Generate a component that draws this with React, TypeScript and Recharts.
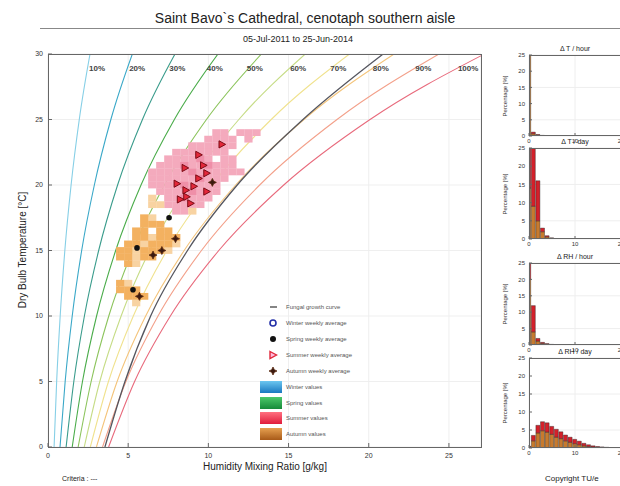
import { ComposedChart, Line, Scatter, Bar, XAxis, YAxis, CartesianGrid } from 'recharts'

const FONT = '"Liberation Sans", Arial, Helvetica, sans-serif'

// mixing ratio [g/kg] of each RH curve at these dry bulb temperatures
const temps = [0, 5, 10, 15, 20, 25, 30]
const rh10 = [0.38, 0.54, 0.76, 1.05, 1.44, 1.95, 2.62]
const rh20 = [0.75, 1.07, 1.51, 2.1, 2.89, 3.92, 5.26]
const rh30 = [1.13, 1.61, 2.27, 3.16, 4.34, 5.89, 7.92]
const rh40 = [1.51, 2.15, 3.03, 4.22, 5.8, 7.88, 10.6]
const rh50 = [1.88, 2.69, 3.79, 5.28, 7.26, 9.88, 13.31]
const rh60 = [2.26, 3.23, 4.56, 6.34, 8.74, 11.9, 16.04]
const rh70 = [2.64, 3.77, 5.32, 7.41, 10.22, 13.92, 18.8]
const rh80 = [3.02, 4.31, 6.09, 8.49, 11.7, 15.96, 21.58]
const rh90 = [3.4, 4.86, 6.86, 9.57, 13.2, 18.02, 24.38]
const rh100 = [3.78, 5.4, 7.63, 10.65, 14.7, 20.08, 27.21]
const fungal = [3.55, 4.8, 6.4, 8.7, 11.8, 15.9, 20.9]

const rhLabels = ['10%', '20%', '30%', '40%', '50%', '60%', '70%', '80%', '90%', '100%']
const rhLabelW = [3.06, 5.56, 8.06, 10.4, 12.9, 15.6, 18.1, 20.75, 23.4, 26.2]
const rhColors = ['#86cfe6', '#3aa8c8', '#3a9c8c', '#4aac4a', '#8cc45c', '#c6dc86', '#f0e28e', '#f4c47a', '#f3a08a', '#e86a7c']

// [mixing ratio, temperature]
const summerValues = [
  [10.5, 24], [11, 24], [12, 24], [12.5, 24], [13, 24],
  [10, 23.5], [10.5, 23.5], [11, 23.5], [11.5, 23.5], [12.5, 23.5],
  [9, 23], [9.5, 23], [10, 23], [10.5, 23], [11, 23], [11.5, 23],
  [8, 22.5], [8.5, 22.5], [9, 22.5], [9.5, 22.5], [10, 22.5], [10.5, 22.5], [11, 22.5],
  [7.5, 22], [8, 22], [8.5, 22], [9, 22], [9.5, 22], [10, 22], [11, 22], [11.5, 22],
  [7, 21.5], [7.5, 21.5], [8, 21.5], [8.5, 21.5], [9, 21.5], [9.5, 21.5], [10, 21.5], [10.5, 21.5], [11, 21.5], [11.5, 21.5],
  [6.5, 21], [7, 21], [7.5, 21], [8, 21], [8.5, 21], [9, 21], [9.5, 21], [10, 21], [10.5, 21], [11, 21], [11.5, 21], [12, 21],
  [6.5, 20.5], [7, 20.5], [7.5, 20.5], [8, 20.5], [8.5, 20.5], [9, 20.5], [9.5, 20.5], [10, 20.5], [10.5, 20.5], [11, 20.5],
  [6.5, 20], [7, 20], [7.5, 20], [8, 20], [8.5, 20], [9, 20], [9.5, 20], [10, 20], [10.5, 20],
  [7, 19.5], [7.5, 19.5], [8, 19.5], [8.5, 19.5], [9, 19.5], [9.5, 19.5], [10, 19.5], [10.5, 19.5],
  [7.5, 19], [8, 19], [8.5, 19], [9, 19], [9.5, 19], [10, 19],
  [7.5, 18.5], [8, 18.5], [8.5, 18.5], [9, 18.5], [9.5, 18.5],
  [8, 18], [8.5, 18],
]
const summerDense = [
  [8.5, 21.5], [9, 21], [9.5, 20.5], [8.5, 20], [9, 19.5], [10, 21.5], [9.5, 22], [8.5, 19],
]
const autumnValues = [
  [6, 17.5], [6, 17], [6.5, 17], [7, 17],
  [5.5, 16.5], [6, 16.5], [7, 16.5], [7.5, 16.5],
  [5.5, 16], [6, 16], [7, 16], [7.5, 16], [8, 16],
  [5, 15.5], [5.5, 15.5], [6.5, 15.5], [7, 15.5], [7.5, 15.5],
  [4.5, 15], [5, 15], [6, 15], [6.5, 15], [7, 15],
  [4.5, 14.5], [5, 14.5], [6, 14.5], [6.5, 14.5],
  [5, 14],
  [4.5, 12.5], [4.5, 12], [5, 12], [5.5, 12],
  [5, 11.5], [5.5, 11.5], [6, 11.5],
]
const autumnPale = [
  [6.5, 19], [6.5, 18.5], [7, 18.5], [9, 18], [6.5, 17.5], [6.5, 16], [6, 15.5], [5.5, 15],
  [5.5, 14.5], [5.5, 14], [5, 12.5], [5.5, 11], [8, 15.5], [7.5, 15],
]
const summerWeekly = [
  [10.85, 23.1], [9.4, 22.3], [9.7, 21.5], [8.55, 21.3], [9.9, 20.9], [8.05, 20.1], [9.1, 19.9],
  [9.9, 19.5], [8.65, 19.1], [8.25, 18.9], [8.9, 18.6], [9.4, 20.5], [8.6, 19.6],
]
const springWeekly = [[7.55, 17.5], [5.55, 15.2], [5.3, 12.0]]
const autumnWeekly = [[7.95, 15.9], [6.55, 14.65], [7.1, 15.0], [5.7, 11.5], [10.25, 20.2]]

// histogram panels, bin centres and percentages
const binCenters = [0, 1, 2, 3, 4, 5, 6, 7, 8, 9, 10, 11, 12, 13, 14, 15, 16, 17, 18, 19]
const dtHourAutumn = [40, 0.7, 0.25, 0.1, 0.05, 0, 0, 0, 0, 0, 0, 0, 0, 0, 0, 0, 0, 0, 0, 0]
const dtHourSummer = [30, 0.5, 0.2, 0.1, 0, 0, 0, 0, 0, 0, 0, 0, 0, 0, 0, 0, 0, 0, 0, 0]
const dtDayAutumn = [14, 9, 5, 2, 0.6, 0.2, 0.1, 0, 0, 0, 0, 0, 0, 0, 0, 0, 0, 0, 0, 0]
const dtDaySummer = [14, 17, 11, 1, 0.3, 0.1, 0, 0, 0, 0, 0, 0, 0, 0, 0, 0, 0, 0, 0, 0]
const drhHourAutumn = [20, 4, 1.2, 0.5, 0.25, 0.1, 0, 0, 0, 0, 0, 0, 0, 0, 0, 0, 0, 0, 0, 0]
const drhHourSummer = [20, 8, 0.8, 0.3, 0.15, 0.1, 0, 0, 0, 0, 0, 0, 0, 0, 0, 0, 0, 0, 0, 0]
const drhDayAutumn = [0.3, 2.0, 4.2, 4.8, 4.4, 3.8, 3.0, 2.6, 2.0, 1.6, 1.2, 0.9, 0.6, 0.4, 0.3, 0.2, 0.15, 0.1, 0.05, 0.05]
const drhDaySummer = [0.2, 1.5, 2.1, 2.5, 2.6, 2.2, 2.2, 1.9, 1.6, 1.4, 1.2, 1.0, 0.7, 0.5, 0.3, 0.2, 0.15, 0.1, 0.05, 0.05]

const curve = (ws: number[]) => ws.map((w, i) => ({ w, t: temps[i] }))
const pts = (arr: number[][]) => arr.map(([w, t]) => ({ w, t }))
const rhCurves = [rh10, rh20, rh30, rh40, rh50, rh60, rh70, rh80, rh90, rh100]

const tickStyle = { fontSize: 7, fill: '#333', fontFamily: FONT }

const square = (color: string) => (p: any) => (
  <rect x={p.cx - 4.1} y={p.cy - 3.4} width={8.2} height={6.8} fill={color} />
)
const triangle = (p: any) => (
  <polygon
    points={`${p.cx - 3},${p.cy - 3.6} ${p.cx + 3.6},${p.cy} ${p.cx - 3},${p.cy + 3.6}`}
    fill="#e3283a"
    stroke="#7a0a14"
    strokeWidth={1}
  />
)
const dot = (p: any) => <circle cx={p.cx} cy={p.cy} r={2.8} fill="#111" />
const star = (p: any) => {
  const { cx, cy } = p
  return (
    <path
      d={`M${cx},${cy - 4} L${cx + 1.3},${cy - 1.3} L${cx + 4},${cy} L${cx + 1.3},${cy + 1.3} L${cx},${cy + 4} L${cx - 1.3},${cy + 1.3} L${cx - 4},${cy} L${cx - 1.3},${cy - 1.3} Z`}
      fill="#3b1a10"
      stroke="#5a2a10"
      strokeWidth={0.8}
    />
  )
}
const labelText = (p: any) => (
  <text x={p.cx} y={p.cy} textAnchor="middle" dominantBaseline="middle" fontSize={8} fontWeight={700} fill="#444" fontFamily={FONT}>
    {p.payload.label}
  </text>
)

function MainChart() {
  return (
    <ComposedChart
      width={490}
      height={486}
      margin={{ top: 54, right: 9, bottom: 14, left: 18 }}
      style={{ position: 'absolute', left: 0, top: 0 }}
    >
      <CartesianGrid stroke="#efefef" />
      <XAxis
        type="number"
        dataKey="w"
        domain={[0, 27]}
        ticks={[0, 5, 10, 15, 20, 25]}
        allowDataOverflow
        height={25}
        axisLine={false}
        tickSize={-4}
        tickMargin={10}
        tickLine={{ stroke: '#666' }}
        tick={tickStyle}
      />
      <YAxis
        type="number"
        dataKey="t"
        domain={[0, 30]}
        ticks={[0, 5, 10, 15, 20, 25, 30]}
        allowDataOverflow
        width={30}
        axisLine={false}
        tickSize={-4}
        tickMargin={9}
        tickLine={{ stroke: '#666' }}
        tick={tickStyle}
      />
      {rhCurves.map((c, i) => (
        <Line
          key={rhLabels[i]}
          data={curve(c)}
          dataKey="t"
          type="monotone"
          stroke={rhColors[i]}
          strokeWidth={1.1}
          dot={false}
          isAnimationActive={false}
        />
      ))}
      <Line data={curve(fungal)} dataKey="t" type="monotone" stroke="#55565f" strokeWidth={1.3} dot={false} isAnimationActive={false} />
      <Scatter data={pts(summerValues)} shape={square('#f4aabd')} isAnimationActive={false} />
      <Scatter data={pts(summerDense)} shape={square('#ef8fa8')} isAnimationActive={false} />
      <Scatter data={pts(autumnPale)} shape={square('#f8d3a2')} isAnimationActive={false} />
      <Scatter data={pts(autumnValues)} shape={square('#f3b160')} isAnimationActive={false} />
      <Scatter data={pts(summerWeekly)} shape={triangle} isAnimationActive={false} />
      <Scatter data={pts(springWeekly)} shape={dot} isAnimationActive={false} />
      <Scatter data={pts(autumnWeekly)} shape={star} isAnimationActive={false} />
      <Scatter data={rhLabels.map((label, i) => ({ w: rhLabelW[i], t: 28.9, label }))} shape={labelText} isAnimationActive={false} />
    </ComposedChart>
  )
}

function Legend() {
  const rows = [9, 25, 41, 57, 73, 89, 105, 120, 136]
  const names = [
    'Fungal growth curve', 'Winter weekly average', 'Spring weekly average', 'Summer weekly average',
    'Autumn weekly average', 'Winter values', 'Spring values', 'Summer values', 'Autumn values',
  ]
  const grads = [['#6cc6f0', '#1a78c0'], ['#4cc86a', '#168a3a'], ['#ff7080', '#e01c3c'], ['#e6a050', '#a85a18']]
  return (
    <svg width={135} height={146} style={{ position: 'absolute', left: 255, top: 298 }}>
      <defs>
        {grads.map((g, i) => (
          <linearGradient key={i} id={`lg${i}`} x1="0" y1="0" x2="0" y2="1">
            <stop offset="0%" stopColor={g[0]} />
            <stop offset="100%" stopColor={g[1]} />
          </linearGradient>
        ))}
      </defs>
      <line x1={15} x2={22} y1={rows[0]} y2={rows[0]} stroke="#333" strokeWidth={1.2} />
      <circle cx={18} cy={rows[1]} r={3} fill="#fff" stroke="#2430a8" strokeWidth={1.6} />
      <circle cx={18} cy={rows[2]} r={3} fill="#111" />
      <polygon points={`15,${rows[3] - 3.5} 21.5,${rows[3]} 15,${rows[3] + 3.5}`} fill="#fbd" stroke="#e0283a" strokeWidth={1.4} />
      {star({ cx: 18, cy: rows[4] })}
      {grads.map((_, i) => (
        <rect key={i} x={5} y={rows[5 + i] - 6} width={22} height={12} fill={`url(#lg${i})`} />
      ))}
      {names.map((n, i) => (
        <text key={n} x={31} y={rows[i]} dominantBaseline="middle" fontSize={6} fill="#555" fontFamily={FONT}>
          {n}
        </text>
      ))}
    </svg>
  )
}

interface PanelProps {
  title: string
  autumn: number[]
  summer: number[]
  top: number
  plotH: number
}

function HistPanel({ title, autumn, summer, top, plotH }: PanelProps) {
  const data = binCenters.map((b, i) => ({ b, autumn: autumn[i], summer: summer[i] }))
  return (
    <>
      <div style={{ position: 'absolute', left: 575, top: top - 10, transform: 'translateX(-50%)', fontSize: 7, whiteSpace: 'nowrap', color: '#222' }}>
        {title}
      </div>
      <div
        style={{
          position: 'absolute', left: 505, top: top + plotH / 2, fontSize: 6, whiteSpace: 'nowrap', color: '#333',
          transform: 'translate(-50%, -50%) rotate(-90deg)',
        }}
      >
        Percentage [%]
      </div>
      <ComposedChart
        width={127}
        height={plotH + 5 + 14}
        data={data}
        margin={{ top: 5, right: 5, bottom: 0, left: 0 }}
        style={{ position: 'absolute', left: 499, top: top - 5 }}
      >
        <CartesianGrid stroke="#eeeeee" />
        <XAxis
          type="number"
          dataKey="b"
          domain={[0, 20]}
          ticks={[0, 10, 20]}
          allowDataOverflow
          height={14}
          axisLine={false}
          tickSize={-3}
          tickMargin={6}
          tickLine={{ stroke: '#666' }}
          tick={{ ...tickStyle, fontSize: 6 }}
        />
        <YAxis
          type="number"
          domain={[0, 25]}
          ticks={[0, 5, 10, 15, 20, 25]}
          allowDataOverflow
          width={30}
          axisLine={false}
          tickSize={-3}
          tickMargin={7}
          tickLine={{ stroke: '#666' }}
          tick={{ ...tickStyle, fontSize: 6 }}
        />
        <Bar dataKey="autumn" stackId="s" fill="#c77a2e" stroke="#222" strokeWidth={0.4} barSize={4} isAnimationActive={false} />
        <Bar dataKey="summer" stackId="s" fill="#d4202a" stroke="#222" strokeWidth={0.4} barSize={4} isAnimationActive={false} />
      </ComposedChart>
      <div style={{ position: 'absolute', left: 529, top, width: 92, height: plotH, border: '1px solid #666', boxSizing: 'border-box', pointerEvents: 'none' }} />
    </>
  )
}

export default function App() {
  return (
    <div style={{ position: 'absolute', left: 0, top: 0, width: 620, height: 486, overflow: 'hidden', background: '#fff', fontFamily: FONT, color: '#222' }}>
      <div style={{ position: 'absolute', left: 305, top: 10, transform: 'translateX(-50%)', fontSize: 14, whiteSpace: 'nowrap' }}>
        Saint Bavo`s Cathedral, cenotaph southern aisle
      </div>
      <div style={{ position: 'absolute', left: 40, top: 28, width: 590, height: 1, background: '#888' }} />
      <div style={{ position: 'absolute', left: 298, top: 34, transform: 'translateX(-50%)', fontSize: 9, whiteSpace: 'nowrap' }}>
        05-Jul-2011 to 25-Jun-2014
      </div>

      <MainChart />
      <div style={{ position: 'absolute', left: 48, top: 54, width: 434, height: 394, border: '1px solid #666', boxSizing: 'border-box', pointerEvents: 'none' }} />
      <Legend />

      <div
        style={{
          position: 'absolute', left: 22, top: 250, fontSize: 10, whiteSpace: 'nowrap',
          transform: 'translate(-50%, -50%) rotate(-90deg)',
        }}
      >
        Dry Bulb Temperature [°C]
      </div>
      <div style={{ position: 'absolute', left: 265, top: 461, transform: 'translateX(-50%)', fontSize: 10, whiteSpace: 'nowrap' }}>
        Humidity Mixing Ratio [g/kg]
      </div>
      <div style={{ position: 'absolute', left: 62, top: 475, fontSize: 7, whiteSpace: 'nowrap' }}>Criteria : ---</div>
      <div style={{ position: 'absolute', left: 545, top: 474, fontSize: 8, whiteSpace: 'nowrap' }}>Copyright TU/e</div>

      <HistPanel title="Δ T / hour" autumn={dtHourAutumn} summer={dtHourSummer} top={55} plotH={81} />
      <HistPanel title="Δ T / day" autumn={dtDayAutumn} summer={dtDaySummer} top={148} plotH={91} />
      <HistPanel title="Δ RH / hour" autumn={drhHourAutumn} summer={drhHourSummer} top={263} plotH={82} />
      <HistPanel title="Δ RH / day" autumn={drhDayAutumn} summer={drhDaySummer} top={358} plotH={90} />
    </div>
  )
}
